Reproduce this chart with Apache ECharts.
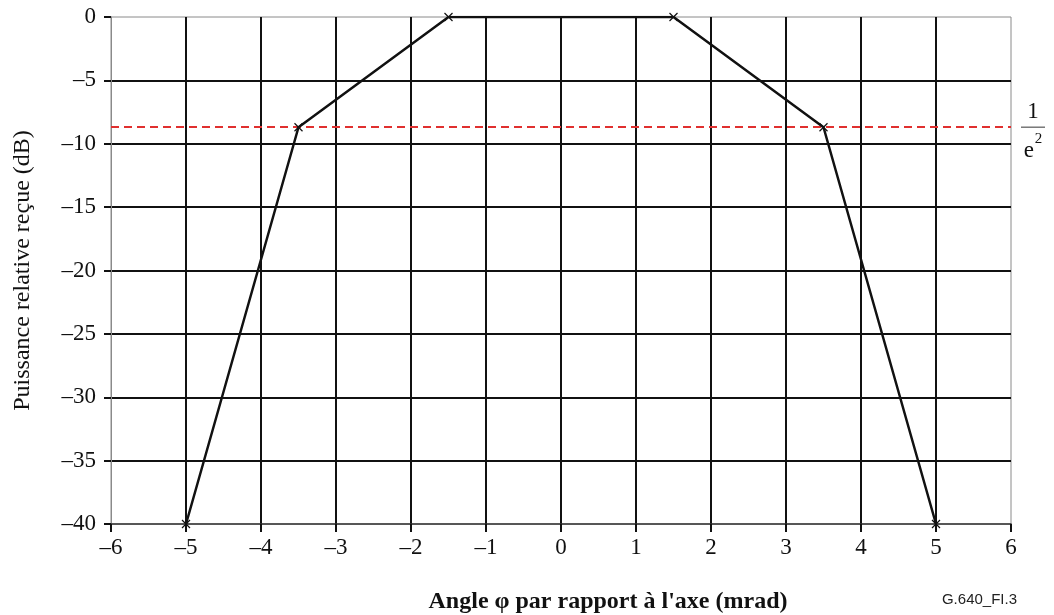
<!DOCTYPE html>
<html>
<head>
<meta charset="utf-8">
<script src="https://cdn.jsdelivr.net/npm/echarts@6/dist/echarts.min.js"></script>
<style>html,body{margin:0;padding:0;background:#fff}#c{width:1054px;height:615px}</style>
</head>
<body>
<div id="c"></div>
<script>
const angles = [-5, -3.5, -1.5, 1.5, 3.5, 5];
const power = [-40, -8.7, 0, 0, -8.7, -40];
const refLevel = -8.69;
const refLabel = ['1', 'e', '2'];
const xTitle = "Angle \u03c6 par rapport \u00e0 l'axe (mrad)";
const yTitle = 'Puissance relative re\u00e7ue (dB)';
const figId = 'G.640_FI.3';

const serif = '"Liberation Serif", "DejaVu Serif", serif';
const dash = v => String(v).replace('-', '\u2013');
const chart = echarts.init(document.getElementById('c'));
chart.setOption({
  animation: false,
  grid: { left: 111, right: 43, top: 17, bottom: 91, show: true, borderColor: '#8a8a8a', borderWidth: 1, outerBoundsMode: 'none', containLabel: false },
  xAxis: {
    type: 'value', min: -6, max: 6, interval: 1,
    name: xTitle, nameLocation: 'middle', nameGap: 66,
    nameTextStyle: { fontFamily: serif, fontSize: 24, fontWeight: 'bold', color: '#111', padding: [0, 0, 0, 94] },
    axisLine: { show: true, onZero: false, lineStyle: { color: '#333', width: 1.5 } },
    axisTick: { show: true, length: 8, lineStyle: { color: '#111', width: 2 } },
    axisLabel: { formatter: dash, fontFamily: serif, fontSize: 23, color: '#111', margin: 12 },
    splitLine: { show: true, showMinLine: false, showMaxLine: false, lineStyle: { color: '#111', width: 2 } }
  },
  yAxis: {
    type: 'value', min: -40, max: 0, interval: 5,
    name: yTitle, nameLocation: 'middle', nameGap: 76, nameRotate: 90,
    nameTextStyle: { fontFamily: serif, fontSize: 24, color: '#111' },
    axisLine: { show: true, onZero: false, lineStyle: { color: '#8a8a8a', width: 1 } },
    axisTick: { show: true, length: 7, lineStyle: { color: '#111', width: 2 } },
    axisLabel: { formatter: dash, fontFamily: serif, fontSize: 23, color: '#111', margin: 15 },
    splitLine: { show: true, showMinLine: false, showMaxLine: false, lineStyle: { color: '#111', width: 2 } }
  },
  series: [{
    type: 'line',
    data: angles.map((a, i) => [a, power[i]]),
    lineStyle: { color: '#111', width: 2.5 },
    symbol: 'path://M0,0L10,10M10,0L0,10',
    symbolSize: 8,
    itemStyle: { color: 'none', borderColor: '#111', borderWidth: 1.2 },
    z: 5,
    markLine: {
      silent: true, symbol: 'none',
      lineStyle: { color: '#e0302f', type: [8, 5], width: 2 },
      label: {
        show: true, position: 'end', distance: 10,
        formatter: '{t|}\n{n|' + refLabel[0] + '}\n{b|}\n{d|' + refLabel[1] + '}{s|' + refLabel[2] + '}',
        rich: {
          t: { width: 1, height: 18, lineHeight: 18 },
          n: { fontFamily: serif, fontSize: 23, color: '#111', lineHeight: 24, align: 'center' },
          b: { width: 24, height: 1, backgroundColor: '#333', lineHeight: 6, align: 'center' },
          d: { fontFamily: serif, fontSize: 23, color: '#111', lineHeight: 42, align: 'center' },
          s: { fontFamily: serif, fontSize: 15, color: '#111', lineHeight: 42, align: 'center', padding: [0, 0, 25, 1] }
        }
      },
      data: [{ yAxis: refLevel }]
    }
  }],
  graphic: [{
    type: 'text', right: 37, bottom: 8,
    style: { text: figId, font: '15px "Liberation Sans", Arial, sans-serif', fill: '#222' }
  }]
});
</script>
</body>
</html>
